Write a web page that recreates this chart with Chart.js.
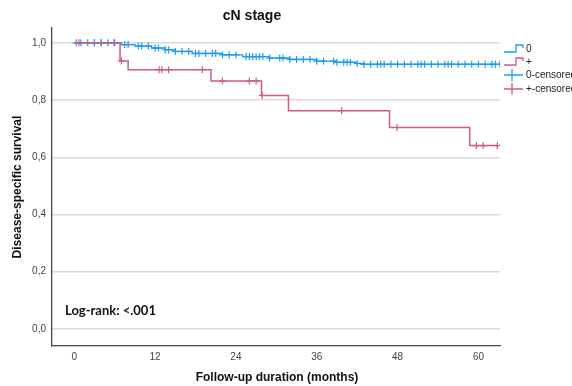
<!DOCTYPE html>
<html>
<head>
<meta charset="utf-8">
<script src="https://cdn.jsdelivr.net/npm/chart.js@4"></script>
<style>
  html, body { margin: 0; padding: 0; background: #fff; }
  #wrap { width: 572px; height: 386px; }
</style>
</head>
<body>
<div id="wrap"><canvas id="kmChart" width="572" height="386"></canvas></div>
<script>
// Data
const blueTimes = [0, 7, 9, 11.5, 13.5, 15, 17.5, 22, 25, 29, 32, 36, 39, 41.8, 43, 63.2];
const blueSurv = [1, 0.994, 0.989, 0.982, 0.976, 0.970, 0.963, 0.958, 0.952, 0.947, 0.942, 0.936, 0.932, 0.928, 0.925, 0.925];
const blueCensored = [0.3, 1, 2, 3, 4, 5, 6, 7.5, 8, 9.5, 10, 11, 12, 12.5, 13.5, 14, 15, 16, 17, 18,
    18.5, 19.5, 20.5, 21, 22, 23, 24, 25.5, 26, 26.5, 27, 27.5, 28, 29, 30.5, 31, 32, 33, 34, 35, 36,
    37, 38.5, 39, 40, 40.5, 41, 42, 43, 44, 45, 45.5, 46, 47, 48, 49, 50, 51, 51.5, 52, 53, 54, 55,
    55.5, 56, 57, 58, 59, 60, 61, 62, 62.5, 63.2];

const redTimes = [0, 6.8, 8, 20.3, 27.8, 31.8, 46.8, 58.7, 62.8];
const redSurv = [1, 0.937, 0.906, 0.867, 0.816, 0.763, 0.704, 0.641, 0.641];
const redCensored = [0.7, 3, 4, 5.9, 7, 12.6, 13, 14, 19, 22, 26, 27, 27.9, 39.7, 47.9, 59.7, 60.7, 62.8];

const xTicks = [0, 12, 24, 36, 48, 60];
const yTicks = [0, 0.2, 0.4, 0.6, 0.8, 1.0];

const BLUE = "#1f9bf2";
const RED = "#d05a82";

// survival value at time t (last step at or before t)
function survAt(times, surv, t) {
    let v = surv[0];
    for (let i = 0; i < times.length; i++) {
        if (times[i] <= t) v = surv[i];
    }
    return v;
}

const bluePoints = blueTimes.map((t, i) => ({ x: t, y: blueSurv[i] }));
const redPoints = redTimes.map((t, i) => ({ x: t, y: redSurv[i] }));
const blueMarks = blueCensored.map((t) => ({ x: t, y: survAt(blueTimes, blueSurv, t) }));
const redMarks = redCensored.map((t) => ({ x: t, y: survAt(redTimes, redSurv, t) }));

// Extra text and legend
const decorPlugin = {
    id: "decor",
    afterDraw(chart) {
        const ctx = chart.ctx;
        ctx.save();
        ctx.fillStyle = "#111";
        ctx.textAlign = "center";
        ctx.textBaseline = "middle";
        ctx.font = "bold 14px 'Liberation Sans', Arial, sans-serif";
        ctx.fillText("cN stage", 252, 16);

        ctx.font = "bold 12px 'Liberation Sans', Arial, sans-serif";
        ctx.fillText("Follow-up duration (months)", 277, 378);

        ctx.save();
        ctx.translate(18, 187);
        ctx.rotate(-Math.PI / 2);
        ctx.fillText("Disease-specific survival", 0, 0);
        ctx.restore();

        ctx.textAlign = "left";
        ctx.font = "bold 13px Lato, 'Open Sans', sans-serif";
        ctx.fillText("Log-rank: <.001", 65, 311);

        // legend
        ctx.font = "10px 'Liberation Sans', Arial, sans-serif";
        ctx.fillStyle = "#222";
        ctx.lineWidth = 1.3;
        const rows = [
            { label: "0", color: BLUE, step: true, y: 49 },
            { label: "+", color: RED, step: true, y: 62 },
            { label: "0-censored", color: BLUE, step: false, y: 75 },
            { label: "+-censored", color: RED, step: false, y: 89 },
        ];
        rows.forEach((r) => {
            ctx.strokeStyle = r.color;
            ctx.beginPath();
            if (r.step) {
                ctx.moveTo(504, r.y + 3);
                ctx.lineTo(516, r.y + 3);
                ctx.lineTo(516, r.y - 4);
                ctx.lineTo(523, r.y - 4);
                ctx.lineTo(523, r.y - 1);
            } else {
                ctx.moveTo(504, r.y);
                ctx.lineTo(523, r.y);
                ctx.moveTo(512, r.y - 6);
                ctx.lineTo(512, r.y + 6);
            }
            ctx.stroke();
            ctx.fillText(r.label, 526, r.y);
        });
        ctx.restore();
    },
};

const kmChart = document.getElementById("kmChart");

new Chart(kmChart, {
    type: "line",
    data: {
        datasets: [
            {
                label: "+",
                data: redPoints,
                borderColor: RED,
                borderWidth: 1.5,
                stepped: true,
                pointRadius: 0,
                fill: false,
            },
            {
                label: "0",
                data: bluePoints,
                borderColor: BLUE,
                borderWidth: 1.4,
                stepped: true,
                pointRadius: 0,
                fill: false,
            },
            {
                label: "0-censored",
                type: "scatter",
                data: blueMarks,
                pointStyle: "cross",
                pointRadius: 3.5,
                borderColor: BLUE,
                borderWidth: 1.2,
                showLine: false,
            },
            {
                label: "+-censored",
                type: "scatter",
                data: redMarks,
                pointStyle: "cross",
                pointRadius: 3.5,
                borderColor: RED,
                borderWidth: 1.2,
                showLine: false,
            },
        ],
    },
    options: {
        responsive: false,
        animation: false,
        layout: {
            padding: { top: 28, right: 72, left: 0, bottom: 0 },
        },
        plugins: {
            legend: { display: false },
            title: { display: false },
            tooltip: { enabled: false },
        },
        scales: {
            x: {
                type: "linear",
                min: -3.3,
                max: 63.2,
                afterBuildTicks: (scale) => {
                    scale.ticks = xTicks.map((v) => ({ value: v }));
                },
                afterFit: (scale) => {
                    scale.height = 40;
                },
                grid: { display: false, drawTicks: false },
                border: { display: true, color: "#444", width: 1.3 },
                ticks: {
                    padding: 5,
                    color: "#444",
                    font: { family: "'Liberation Sans', Arial, sans-serif", size: 10 },
                },
            },
            y: {
                type: "linear",
                min: -0.06,
                max: 1.052,
                afterBuildTicks: (scale) => {
                    scale.ticks = yTicks.map((v) => ({ value: v }));
                },
                afterFit: (scale) => {
                    scale.width = 52;
                },
                grid: { color: "#d9d9d9", lineWidth: 1.5, drawTicks: false },
                border: { display: true, color: "#444", width: 1.3 },
                ticks: {
                    padding: 6,
                    color: "#444",
                    font: { family: "'Liberation Sans', Arial, sans-serif", size: 10 },
                    callback: (v) => v.toFixed(1).replace(".", ","),
                },
            },
        },
    },
    plugins: [decorPlugin],
});
</script>
</body>
</html>
